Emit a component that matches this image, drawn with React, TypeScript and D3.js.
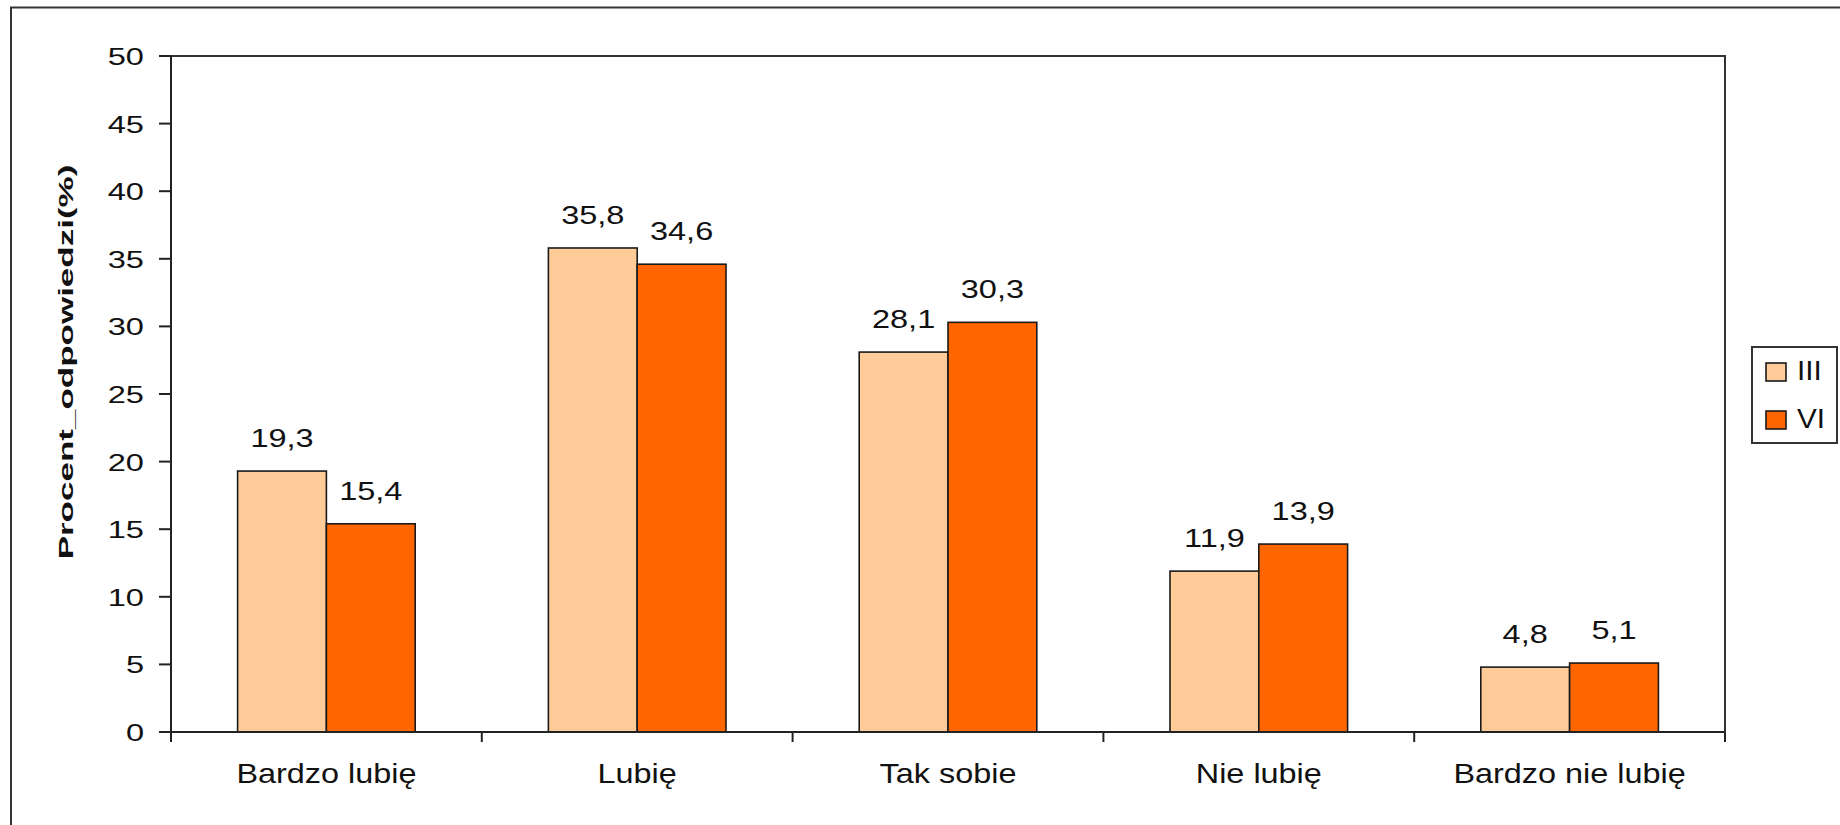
import React from "react";
import * as d3 from "d3";

const categories = ["Bardzo lubię", "Lubię", "Tak sobie", "Nie lubię", "Bardzo nie lubię"];
const seriesNames = ["III", "VI"];
const seriesIII = [19.3, 35.8, 28.1, 11.9, 4.8];
const seriesVI = [15.4, 34.6, 30.3, 13.9, 5.1];
const yTicks = [0, 5, 10, 15, 20, 25, 30, 35, 40, 45, 50];
const yTitle = "Procent_odpowiedzi(%)";

const W = 1840;
const H = 825;
const plot = { left: 171, right: 1725, top: 56, bottom: 732 };
const colors = ["#FFCC99", "#FF6600"];
const FONT = "'Liberation Sans', Arial, sans-serif";
const TEXT = "#111";

export default function App() {
  const x = d3.scaleBand<string>().domain(categories).range([plot.left, plot.right]).padding(0);
  const bw = x.bandwidth();
  const barW = bw / 3.5;
  const xs = d3
    .scaleBand<string>()
    .domain(seriesNames)
    .range([(bw - 2 * barW) / 2, (bw + 2 * barW) / 2])
    .padding(0);
  const y = d3.scaleLinear().domain([0, 50]).range([plot.bottom, plot.top]);
  const all = [seriesIII, seriesVI];
  const fmt = (v: number) => d3.format(".1f")(v).replace(".", ",");

  const boundaries = categories.map((c) => x(c) as number).concat([plot.right]);

  return (
    <svg
      width={W}
      height={H}
      style={{ position: "absolute", left: 0, top: 0, background: "#fff" }}
      fontFamily={FONT}
    >
      <rect x={0} y={0} width={W} height={H} fill="#fff" />
      <rect x={11} y={7.5} width={W} height={H + 20} fill="none" stroke="#333" strokeWidth={2} />

      {/* plot area border */}
      <rect
        x={plot.left}
        y={plot.top}
        width={plot.right - plot.left}
        height={plot.bottom - plot.top}
        fill="#fff"
        stroke="#333"
        strokeWidth={2}
      />

      {/* bars */}
      {all.map((vals, si) =>
        vals.map((v, ci) => {
          const bx = (x(categories[ci]) as number) + (xs(seriesNames[si]) as number);
          return (
            <rect
              key={`b${si}-${ci}`}
              x={bx}
              y={y(v)}
              width={xs.bandwidth()}
              height={y(0) - y(v)}
              fill={colors[si]}
              stroke="#1a1a1a"
              strokeWidth={1.6}
            />
          );
        })
      )}

      {/* axes */}
      <line x1={plot.left} x2={plot.left} y1={plot.top} y2={plot.bottom + 10} stroke="#222" strokeWidth={2} />
      <line x1={plot.left - 12} x2={plot.right} y1={plot.bottom} y2={plot.bottom} stroke="#222" strokeWidth={2} />
      {yTicks.map((t) => (
        <g key={`yt${t}`}>
          <line x1={plot.left - 12} x2={plot.left} y1={y(t)} y2={y(t)} stroke="#222" strokeWidth={2} />
          <text
            transform={`translate(${plot.left - 27},${y(t) + 9}) scale(1.33,1)`}
            textAnchor="end"
            fontSize={24.5}
            fill={TEXT}
          >
            {t}
          </text>
        </g>
      ))}
      {boundaries.map((bx, i) => (
        <line key={`xt${i}`} x1={bx} x2={bx} y1={plot.bottom} y2={plot.bottom + 10} stroke="#222" strokeWidth={2} />
      ))}
      {categories.map((c) => (
        <text
          key={`xl${c}`}
          transform={`translate(${(x(c) as number) + bw / 2},${plot.bottom + 51}) scale(1.2,1)`}
          textAnchor="middle"
          fontSize={27}
          fill={TEXT}
        >
          {c}
        </text>
      ))}

      {/* data labels */}
      {all.map((vals, si) =>
        vals.map((v, ci) => {
          const cx = (x(categories[ci]) as number) + (xs(seriesNames[si]) as number) + xs.bandwidth() / 2;
          return (
            <text
              key={`dl${si}-${ci}`}
              transform={`translate(${cx},${y(v) - 24}) scale(1.3,1)`}
              textAnchor="middle"
              fontSize={25}
              fill={TEXT}
            >
              {fmt(v)}
            </text>
          );
        })
      )}

      {/* y title */}
      <text
        transform={`translate(73,${(plot.top + plot.bottom) / 2 - 32}) rotate(-90) scale(1.75,1)`}
        textAnchor="middle"
        fontSize={20}
        fontWeight="bold"
        fill={TEXT}
      >
        {yTitle}
      </text>

      {/* legend */}
      <g>
        <rect x={1752} y={347} width={85} height={96} fill="#fff" stroke="#333" strokeWidth={2} />
        {seriesNames.map((s, i) => (
          <g key={`lg${s}`}>
            <rect x={1766} y={363 + i * 48} width={20} height={18} fill={colors[i]} stroke="#1a1a1a" strokeWidth={1.6} />
            <text
              transform={`translate(1797,${380 + i * 48}) scale(1.1,1)`}
              fontSize={27}
              fill={TEXT}
            >
              {s}
            </text>
          </g>
        ))}
      </g>
    </svg>
  );
}
